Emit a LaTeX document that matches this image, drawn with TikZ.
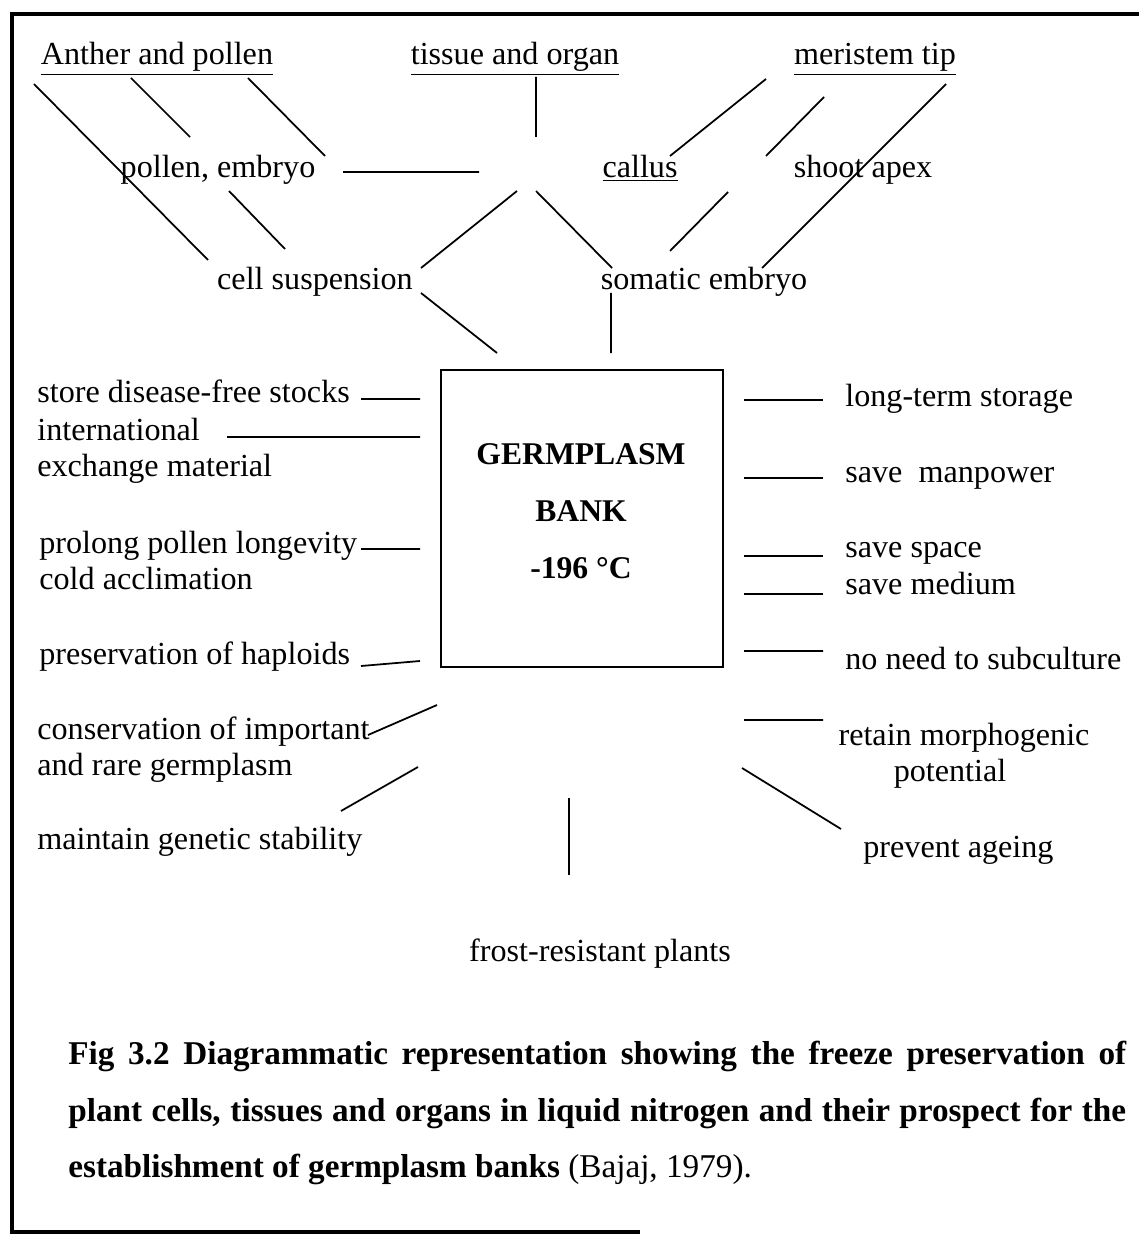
\documentclass[tikz,border=0pt]{standalone}
\usepackage{fontspec}
\setmainfont{Liberation Serif}
\usepackage{tikz}
\usetikzlibrary{calc,positioning}

\begin{document}
\begin{tikzpicture}[x=0.02cm,y=-0.02cm,
	    lbl/.style={inner sep=0pt,anchor=base west,font=\fontsize{18.3}{22}\selectfont},
	    ctr/.style={lbl,anchor=base},
	    bold/.style={ctr,font=\fontsize{18}{21.6}\selectfont\bfseries},
	    capt/.style={lbl,font=\fontsize{18.9}{22.5}\selectfont\bfseries},
	    lnk/.style={line width=1pt}]
	    \useasboundingbox (0,0) rectangle (1139,1243);
	    \draw[line width=2pt] (1139,14) -- (12,14) -- (12,1232) -- (640,1232); %frame
	    % sources
	    \node[ctr] (anther) at (157,65) {\underline{Anther and pollen}};
	    \node[ctr] (tissue) at (515,65) {\underline{tissue and organ}};
	    \node[ctr] (meristem) at (875,65) {\underline{meristem tip}};
	    \node[ctr] (pollen) at (218,178) {pollen, embryo};
	    \node[ctr] (callus) at (640,178) {\underline{callus}};
	    \node[ctr] (shoot) at (863,178) {shoot apex};
	    \node[ctr] (cellsusp) at (315,290) {cell suspension};
	    \node[ctr] (somatic) at (704,290) {somatic embryo};
	    \draw[lnk] (34,84) -- (208,260) (131,78) -- (190,137) (248,78) -- (325,156);
	    \draw[lnk] (229,191) -- (285,249) (343,172) -- (479,172) (536,77) -- (536,137);
	    \draw[lnk] (517,191) -- (421,268) (536,191) -- (612,268);
	    \draw[lnk] (766,79) -- (670,156) (824,97) -- (766,156) (946,84) -- (762,268) (728,192) -- (670,251);
	    \draw[lnk] (421,293) -- (497,353) (611,293) -- (611,353);
	    % the bank
	    \node[draw,line width=1.2pt,minimum width=5.64cm,minimum height=5.94cm] (bank) at (582,518.5) {};
	    \node[bold] (germ) at (581,464) {GERMPLASM};
	    \node[bold] (banktxt) at (581,521) {BANK};
	    \node[bold] (temp) at (581,578) {-196 °C};
	    % uses, left
	    \node[lbl] (store) at (37,402) {store disease-free stocks};
	    \node[lbl] (intl) at (37,440) {international};
	    \node[lbl] (exch) at (37,476) {exchange material};
	    \node[lbl] (prolong) at (39,553) {prolong pollen longevity};
	    \node[lbl] (cold) at (39,589) {cold acclimation};
	    \node[lbl] (haploid) at (39,664) {preservation of haploids};
	    \node[lbl] (conserv) at (37,739) {conservation of important};
	    \node[lbl] (rare) at (37,775) {and rare germplasm};
	    \node[lbl] (maintain) at (37,849) {maintain genetic stability};
	    \draw[lnk] (361,399) -- (420,399) (227,437) -- (420,437) (361,549) -- (420,549) (361,666) -- (420,661);
	    \draw[lnk] (368,735) -- (437,705) (418,767) -- (341,811);
	    % uses, right
	    \node[lbl] (longterm) at (845,406) {long-term storage};
	    \node[lbl] (manpower) at (845,482) {save\ \ manpower};
	    \node[lbl] (space) at (845,557) {save space};
	    \node[lbl] (medium) at (845,594) {save medium};
	    \node[lbl] (subcult) at (845,669) {no need to subculture};
	    \node[ctr] (retain) at (964,745) {retain morphogenic};
	    \node[ctr] (potential) at (950,781) {potential};
	    \node[lbl] (ageing) at (863,857) {prevent ageing};
	    \node[ctr] (frost) at (600,961) {frost-resistant plants};
	    \draw[lnk] (744,400) -- (823,400) (744,478) -- (823,478) (744,556) -- (823,556) (744,594) -- (823,594);
	    \draw[lnk] (744,651) -- (823,651) (744,720) -- (823,720) (742,768) -- (841,829);
	    \draw[lnk] (569,798) -- (569,875);
	    % caption
	    \node[capt] (cap1) at (68,1064) {\makebox[21.16cm][s]{Fig 3.2 Diagrammatic representation showing the freeze preservation of}};
	    \node[capt] (cap2) at (68,1121) {\makebox[21.16cm][s]{plant cells, tissues and organs in liquid nitrogen and their prospect for the}};
	    \node[capt] (cap3) at (68,1177) {establishment of germplasm banks \mdseries(Bajaj, 1979).};
\end{tikzpicture}
\end{document}
